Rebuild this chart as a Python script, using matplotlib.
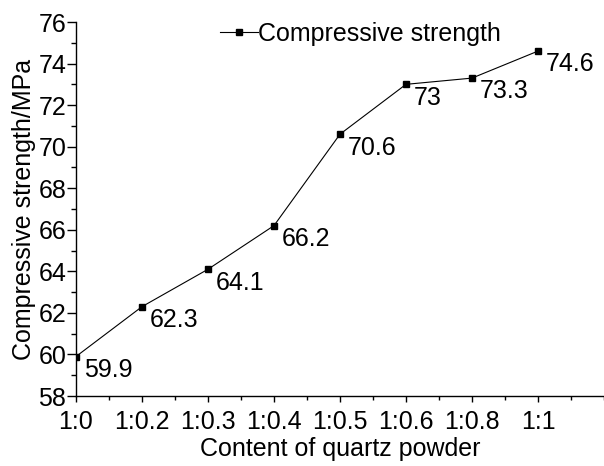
import numpy as np
import matplotlib.pyplot as plt
from matplotlib.ticker import MultipleLocator

plt.rcParams['font.family'] = ['Liberation Sans', 'DejaVu Sans']

# Data
ratios = ['1:0', '1:0.2', '1:0.3', '1:0.4', '1:0.5', '1:0.6', '1:0.8', '1:1']
strength = [59.9, 62.3, 64.1, 66.2, 70.6, 73, 73.3, 74.6]
point_labels = ['59.9', '62.3', '64.1', '66.2', '70.6', '73', '73.3', '74.6']

fig = plt.figure(figsize=(6.04, 4.66), dpi=100)
ax = fig.add_axes([76 / 604, 70 / 466, 528 / 604, 374 / 466])

x = np.arange(len(ratios))
ax.plot(x, strength, color='black', lw=0.8, marker='s', ms=4.8,
        label='Compressive strength')

for xi, yi, t in zip(x, strength, point_labels):
    ax.annotate(t, (xi, yi), xytext=(5.5, -1), textcoords='offset points',
                ha='left', va='top', fontsize=18)

ax.set_xlim(0, 8)
ax.set_ylim(58, 76)
ax.set_xticks(x)
ax.set_xticklabels(ratios)
ax.xaxis.set_minor_locator(MultipleLocator(0.5))
ax.yaxis.set_major_locator(MultipleLocator(2))
ax.yaxis.set_minor_locator(MultipleLocator(1))

for s in ['top', 'right']:
    ax.spines[s].set_visible(False)
for s in ['left', 'bottom']:
    ax.spines[s].set_linewidth(1.0)

ax.tick_params(axis='y', which='major', direction='out', length=6.5,
               width=1.0, labelsize=18, pad=0.5)
ax.tick_params(axis='y', which='minor', direction='out', length=3.5, width=1.0)
ax.tick_params(axis='x', which='major', direction='out', length=4.5,
               width=1.0, labelsize=18, pad=5.5)
ax.tick_params(axis='x', which='minor', direction='out', length=3, width=1.0)

ax.set_xlabel('Content of quartz powder', fontsize=18, labelpad=2)
ax.set_ylabel('Compressive strength/MPa', fontsize=18, labelpad=2)

ax.legend(loc='center left', bbox_to_anchor=(0.273, 0.968), frameon=False,
          fontsize=18, handlelength=1.5, handletextpad=0.0,
          borderaxespad=0.0, borderpad=0.0)

fig.savefig('out.png', dpi=100)
